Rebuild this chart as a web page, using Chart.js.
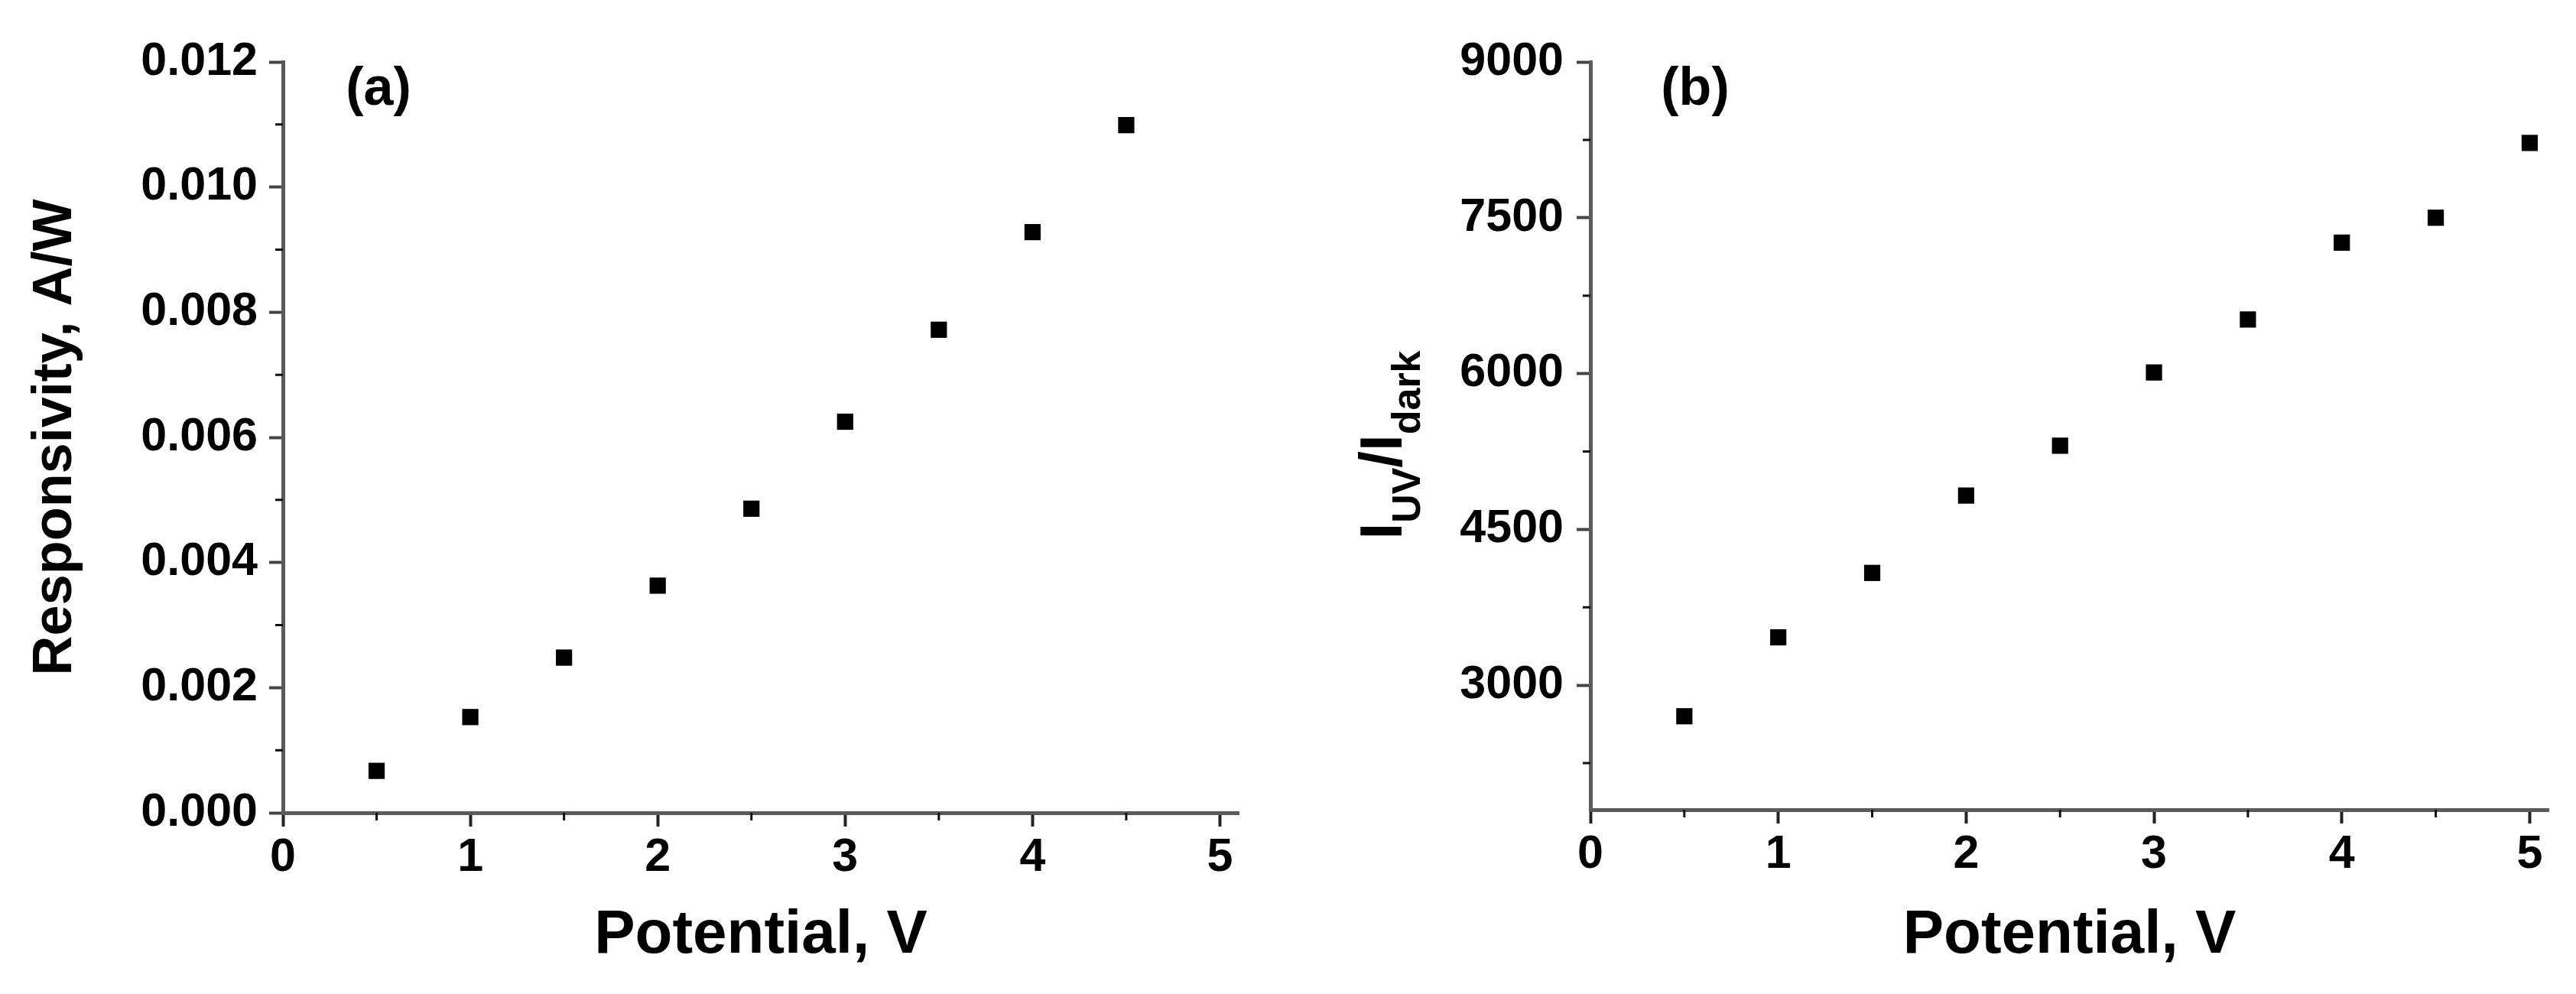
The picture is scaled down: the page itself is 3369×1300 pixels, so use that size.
<!DOCTYPE html>
<html>
<head>
<meta charset="utf-8">
<script src="https://cdn.jsdelivr.net/npm/chart.js@4.4.1/dist/chart.umd.min.js"></script>
<style>
  html, body { margin: 0; padding: 0; background: #fff; }
  #wrap { position: relative; width: 3369px; height: 1300px; }
  #wrap canvas { position: absolute; top: 0; }
</style>
</head>
<body>
<div id="wrap">
  <canvas id="chartA" width="1690" height="1300" style="left:0"></canvas>
  <canvas id="chartB" width="1679" height="1300" style="left:1690px"></canvas>
</div>
<script>
// panel (a): responsivity vs potential
const potentialA = [0.5, 1, 1.5, 2, 2.5, 3, 3.5, 4, 4.5];
const responsivity = [0.00067, 0.00153, 0.00248, 0.00363, 0.00486, 0.00625, 0.00772, 0.00928, 0.01099];

// panel (b): I_UV / I_dark vs potential
const potentialB = [0.5, 1, 1.5, 2, 2.5, 3, 3.5, 4, 4.5, 5];
const onOffRatio = [2700, 3460, 4080, 4825, 5305, 6010, 6520, 7260, 7500, 8220];

// ticks
const xTicks = [0, 1, 2, 3, 4, 5];
const xMinor = [0.5, 1.5, 2.5, 3.5, 4.5];
const yTicksA = [0, 0.002, 0.004, 0.006, 0.008, 0.010, 0.012];
const yMinorA = [0.001, 0.003, 0.005, 0.007, 0.009, 0.011];
const yTicksB = [3000, 4500, 6000, 7500, 9000];
const yMinorB = [2250, 3750, 5250, 6750, 8250];

const FONT = '"Liberation Sans", Arial, sans-serif';
Chart.defaults.font.family = FONT;
Chart.defaults.color = '#000';

// minor ticks, panel letter and the subscripted y title
const extras = {
  id: 'extras',
  afterDraw(chart, args, opts) {
    const ctx = chart.ctx;
    const area = chart.chartArea;
    const xs = chart.scales.x, ys = chart.scales.y;
    ctx.save();
    ctx.strokeStyle = '#111';
    ctx.lineWidth = 3;
    ctx.beginPath();
    opts.xMinor.forEach(v => {
      const px = xs.getPixelForValue(v);
      ctx.moveTo(px, area.bottom);
      ctx.lineTo(px, area.bottom + 10);
    });
    opts.yMinor.forEach(v => {
      const py = ys.getPixelForValue(v);
      ctx.moveTo(area.left - 10, py);
      ctx.lineTo(area.left, py);
    });
    ctx.stroke();

    ctx.fillStyle = '#000';
    ctx.font = 'bold 70px ' + FONT;
    ctx.textAlign = 'center';
    ctx.textBaseline = 'middle';
    ctx.fillText(opts.label, area.left + opts.labelDx, area.top + 37);

    if (opts.titleParts) {
      const mainFont = 'bold 78px ' + FONT;
      const subFont = 'bold 52px ' + FONT;
      let total = 0;
      opts.titleParts.forEach(p => {
        ctx.font = p.sub ? subFont : mainFont;
        total += ctx.measureText(p.text).width;
      });
      ctx.translate(area.left - 247, (area.top + area.bottom) / 2 + 12);
      ctx.rotate(-Math.PI / 2);
      ctx.textAlign = 'left';
      ctx.textBaseline = 'alphabetic';
      let x = -total / 2;
      opts.titleParts.forEach(p => {
        ctx.font = p.sub ? subFont : mainFont;
        ctx.fillText(p.text, x, p.sub ? 24 : 0);
        x += ctx.measureText(p.text).width;
      });
    }
    ctx.restore();
  }
};

function xScale(height) {
  return {
    type: 'linear',
    min: 0,
    max: 5.1,
    afterBuildTicks: s => { s.ticks = xTicks.map(v => ({ value: v })); },
    afterFit: s => { s.height = height; },
    ticks: { font: { size: 61, weight: 'bold' }, color: '#000', padding: 5, autoSkip: false, maxRotation: 0 },
    grid: { drawOnChartArea: false, tickLength: 18, tickWidth: 4, tickColor: '#222' },
    border: { color: '#5a5a5a', width: 5 },
    title: {
      display: true,
      text: 'Potential, V',
      font: { size: 80, weight: 'bold' },
      color: '#000',
      padding: { top: 0, bottom: 28 }
    }
  };
}

function makeDataset(xs, ys) {
  const ds = {
    pointStyle: 'rect',
    pointRadius: 15,
    pointHoverRadius: 15,
    backgroundColor: '#000',
    borderColor: '#000',
    borderWidth: 0,
    showLine: false
  };
  ds.data = xs.map((x, i) => ({ x: x, y: ys[i] }));
  return ds;
}

function makeChart(canvasId, ds, options) {
  const cfg = { type: 'scatter', options: options, plugins: [extras] };
  cfg.data = { datasets: [ds] };
  return new Chart(document.getElementById(canvasId).getContext('2d'), cfg);
}

const commonOptions = {
  responsive: false,
  animation: false,
  devicePixelRatio: 1,
  events: []
};

// Panel (a)
makeChart('chartA', makeDataset(potentialA, responsivity), {
  ...commonOptions,
  layout: { padding: { left: 0, top: 81, right: 70, bottom: 0 } },
  plugins: {
    legend: { display: false },
    tooltip: { enabled: false },
    extras: { xMinor: xMinor, yMinor: yMinorA, label: '(a)', labelDx: 125 }
  },
  scales: {
    x: xScale(237),
    y: {
      type: 'linear',
      min: 0,
      max: 0.012,
      afterBuildTicks: s => { s.ticks = yTicksA.map(v => ({ value: v })); },
      afterFit: s => { s.width = 370; },
      ticks: { font: { size: 61, weight: 'bold' }, color: '#000', padding: 15, callback: v => v.toFixed(3) },
      grid: { drawOnChartArea: false, tickLength: 18, tickWidth: 4, tickColor: '#444' },
      border: { color: '#5a5a5a', width: 5 },
      title: {
        display: true,
        text: 'Responsivity, A/W',
        font: { size: 72, weight: 'bold' },
        color: '#000',
        padding: { top: 30, bottom: 0 }
      }
    }
  }
});

// Panel (b)
makeChart('chartB', makeDataset(potentialB, onOffRatio), {
  ...commonOptions,
  layout: { padding: { left: 0, top: 81, right: 36, bottom: 0 } },
  plugins: {
    legend: { display: false },
    tooltip: { enabled: false },
    extras: {
      xMinor: xMinor,
      yMinor: yMinorB,
      label: '(b)',
      labelDx: 137,
      titleParts: [
        { text: 'I', sub: false },
        { text: 'UV', sub: true },
        { text: '/I', sub: false },
        { text: 'dark', sub: true }
      ]
    }
  },
  scales: {
    x: xScale(241),
    y: {
      type: 'linear',
      min: 1800,
      max: 9000,
      afterBuildTicks: s => { s.ticks = yTicksB.map(v => ({ value: v })); },
      afterFit: s => { s.width = 390; },
      ticks: { font: { size: 61, weight: 'bold' }, color: '#000', padding: 17, callback: v => String(v) },
      grid: { drawOnChartArea: false, tickLength: 18, tickWidth: 4, tickColor: '#444' },
      border: { color: '#5a5a5a', width: 5 },
      title: { display: false }
    }
  }
});
</script>
</body>
</html>
